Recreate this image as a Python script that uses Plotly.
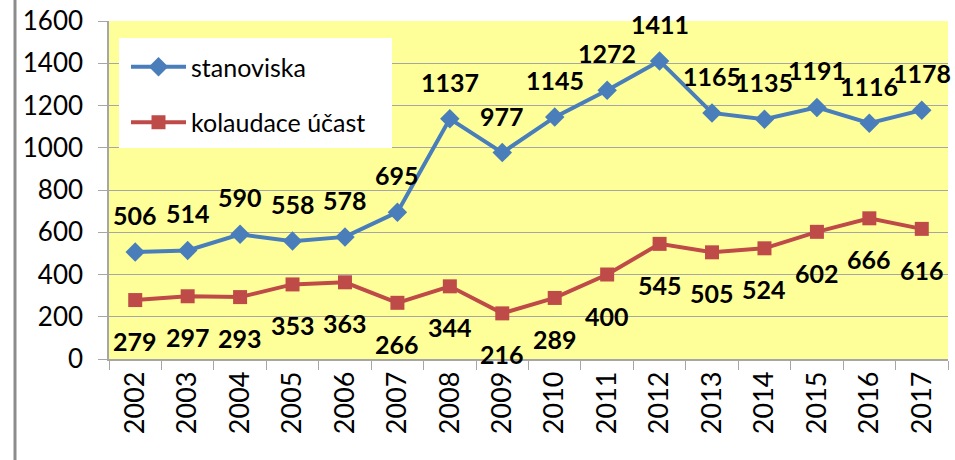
import plotly.graph_objects as go

years = [str(y) for y in range(2002, 2018)]
stanoviska = [506, 514, 590, 558, 578, 695, 1137, 977, 1145, 1272, 1411, 1165, 1135, 1191, 1116, 1178]
kolaudace = [279, 297, 293, 353, 363, 266, 344, 216, 289, 400, 545, 505, 524, 602, 666, 616]
y_ticks = [0, 200, 400, 600, 800, 1000, 1200, 1400, 1600]

W, H = 955, 460
L, R, T, B = 109, 7, 21, 101
PW, PH = W - L - R, H - T - B

def px(x):
    return (x - L) / PW

def py(y):
    return (H - B - y) / PH

BLUE = "#4A7EBB"
RED = "#BE4B48"
GRID = "#A6A6A6"
LBL = dict(family="Lato", size=25, color="#000000", weight="bold")

fig = go.Figure()
fig.add_trace(go.Scatter(
    x=years, y=stanoviska, name="stanoviska", mode="lines+markers",
    line=dict(color=BLUE, width=4), marker=dict(symbol="diamond", size=15, color=BLUE),
    cliponaxis=False, legendgroup="a",
))
fig.add_trace(go.Scatter(
    x=years, y=kolaudace, name="kolaudace účast", mode="lines+markers",
    line=dict(color=RED, width=4), marker=dict(symbol="square", size=14, color=RED),
    cliponaxis=False, legendgroup="b",
))

annotations = []
for i, v in enumerate(stanoviska):
    annotations.append(dict(x=i, y=v, xref="x", yref="y", text=str(v), showarrow=False,
                            yshift=37, xanchor="center", yanchor="middle", font=LBL))
for i, v in enumerate(kolaudace):
    annotations.append(dict(x=i, y=v, xref="x", yref="y", text=str(v), showarrow=False,
                            yshift=-41, xanchor="center", yanchor="middle", font=LBL))
annotations.append(dict(text="Počet stanovisek za rok 2002 - 2017", xref="paper", yref="paper",
                        x=px(140), y=py(6), xanchor="left", yanchor="bottom", showarrow=False,
                        font=dict(family="Lato", size=21, weight="bold")))

fig.update_layout(
    width=W, height=H,
    margin=dict(l=L, r=R, t=T, b=B, pad=0, autoexpand=False),
    paper_bgcolor="white", plot_bgcolor="#FFFF99",
    font=dict(family="Lato", size=24, color="#000000"),
    showlegend=True,
    legend=dict(
        x=px(126), y=py(44), xanchor="left", yanchor="top",
        bgcolor="rgba(0,0,0,0)", font=dict(family="Lato", size=25),
        itemwidth=55, tracegroupgap=20, traceorder="grouped",
    ),
    xaxis=dict(
        type="category", tickson="boundaries", ticks="outside", ticklen=9,
        range=[-0.5, 15.5],
        tickcolor=GRID, tickangle=-90, showline=True, linecolor=GRID, linewidth=1.5,
        showgrid=False, tickfont=dict(family="Lato", size=27), automargin=False,
    ),
    yaxis=dict(
        range=[0, 1600], tickvals=y_ticks, ticks="outside", ticklen=9, tickcolor=GRID,
        showline=True, linecolor=GRID, linewidth=1.5, showgrid=True, gridcolor=GRID,
        gridwidth=1, tickfont=dict(family="Lato", size=26), zeroline=False,
        automargin=False, ticklabelstandoff=10,
    ),
    shapes=[
        dict(type="rect", xref="paper", yref="paper", x0=px(119), x1=px(392),
             y0=py(148), y1=py(38), fillcolor="white", line=dict(width=0), layer="above"),
        dict(type="line", xref="paper", yref="paper", x0=px(15), x1=px(15),
             y0=py(470), y1=py(-10), line=dict(color="#8C8C8C", width=3)),
    ],
    annotations=annotations,
)

fig.write_html("out.html", config={"displayModeBar": False},
               post_script="document.body.style.margin='0';document.body.style.overflow='hidden';")
